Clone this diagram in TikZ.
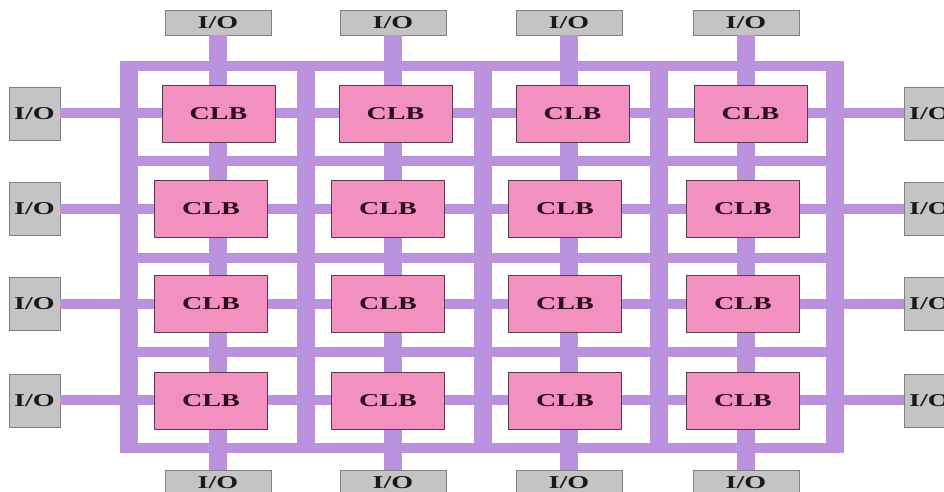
\documentclass[tikz,border=0pt]{standalone}
\usepackage{fontspec}
\newfontfamily\FPfont{Liberation Serif}[FakeStretch=1.55]
\definecolor{FPpurple}{RGB}{187,146,222}
\definecolor{FPpink}{RGB}{242,144,192}
\definecolor{FPgray}{RGB}{196,196,196}
\definecolor{FPtext}{RGB}{45,10,30}

\tikzset{FPlab/.style={font=\FPfont\bfseries\fontsize{10.3}{12}\selectfont,inner sep=0pt},
         FPio/.style={FPlab,rectangle,draw=black!50,fill=FPgray,text=black!90,minimum width=2.12cm,minimum height=0.5cm},
         FPside/.style={FPio,minimum width=1.02cm,minimum height=1.06cm},
         FPclb/.style={FPlab,rectangle,draw=FPtext!80,fill=FPpink,text=FPtext,minimum width=2.26cm,minimum height=1.14cm},
         FPvbus/.style={draw=FPpurple,line width=0.36cm},
         FPhbus/.style={draw=FPpurple,line width=0.2cm}}

\begin{document}
\begin{tikzpicture}[x=0.02cm,y=-0.02cm]
    \useasboundingbox (0,0) rectangle (944,492);
    % routing channels
    \foreach \y in {66,161.5,258,352,448}
      \draw[FPhbus] (120,\y) -- (843,\y);
    \foreach \x in {129,306,483,659,835}
      \draw[FPvbus] (\x,61) -- (\x,453);
    % I/O blocks
    \foreach \x/\n in {218/1,393/2,569/3,746/4}
      {\node[FPio] (t\n) at (\x,22.5) {I/O}; \node[FPio] (b\n) at (\x,482.5) {I/O};}
    \foreach \y/\n in {113.5/1,209/2,304/3,400.5/4}
      {\node[FPside] (l\n) at (34.5,\y) {I/O}; \node[FPside] (r\n) at (929.5,\y) {I/O};}
    \foreach \n in {1,...,4}
      {\draw[FPvbus] (t\n) -- (b\n); \draw[FPhbus] (l\n) -- (r\n);}
    % logic blocks
    \foreach \r/\y/\s in {1/113.5/7.5,2/209/0,3/304/0,4/400.5/0}
      \foreach \c/\x in {1/211,2/388,3/565,4/743}
        \node[FPclb] (c\r\c) at (\x+\s,\y) {CLB};
  \end{tikzpicture}
\end{document}
